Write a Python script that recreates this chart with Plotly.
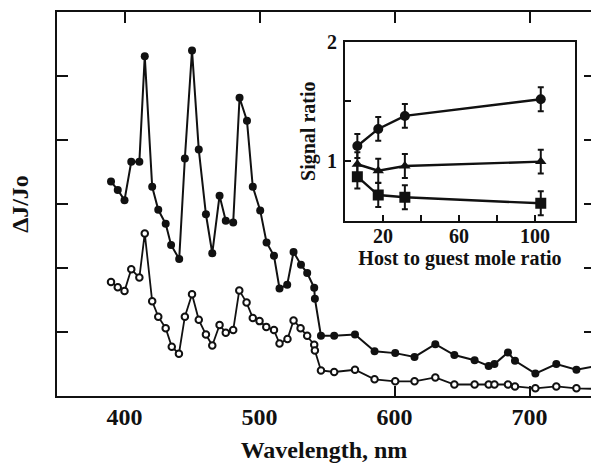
import plotly.graph_objects as go

# Main spectrum data
wl_filled = [390, 395, 400, 405, 411, 415, 420.5, 425, 430.5, 434.5, 440.5, 444.7, 450, 455,
             460.3, 465, 470.4, 475, 480.5, 485.2, 490.7, 495, 500.5, 505.2, 510.7, 514.8,
             520.5, 525.2, 530.7, 535.3, 540.5, 541, 545.5, 555.3, 570.7, 585.2, 600.5, 614.8,
             630.2, 644.3, 659.3, 669.7, 674, 684, 689.2, 704.3, 719.8, 734.7, 750]
dj_filled = [3.35, 3.22, 3.06, 3.66, 3.66, 5.31, 3.27, 2.91, 2.69, 2.36, 2.14, 3.71, 5.40, 3.85,
             2.84, 2.23, 3.13, 2.74, 2.71, 4.66, 4.30, 3.27, 2.90, 2.40, 2.19, 1.68,
             1.74, 2.25, 2.05, 1.92, 1.69, 1.52, 0.94, 0.94, 0.96, 0.70, 0.67, 0.61,
             0.81, 0.64, 0.56, 0.47, 0.50, 0.68, 0.55, 0.35, 0.50, 0.41, 0.47]

wl_open = [390, 395, 400, 405, 411, 415, 420.5, 425, 430.5, 435, 440.3, 444.7, 450, 455,
           460.3, 465, 470.4, 475, 480.5, 485, 490.4, 495, 500, 505, 510.7, 514.8,
           520.7, 525.2, 530.4, 535.3, 540.5, 541, 545.5, 555.3, 570.7, 585.2, 600.5, 614.8,
           630.2, 644.3, 659.3, 669.7, 674, 684, 689.2, 704.3, 719.8, 734.7, 750]
dj_open = [1.78, 1.70, 1.64, 1.98, 1.85, 2.54, 1.48, 1.24, 1.06, 0.77, 0.66, 1.24, 1.59, 1.19,
           0.96, 0.79, 1.11, 0.99, 1.03, 1.65, 1.46, 1.22, 1.17, 1.08, 1.03, 0.82,
           0.89, 1.18, 1.06, 0.94, 0.80, 0.71, 0.40, 0.375, 0.41, 0.26, 0.23, 0.23,
           0.29, 0.18, 0.18, 0.18, 0.18, 0.18, 0.15, 0.12, 0.15, 0.12, 0.11]

wl_ticks = [400, 500, 600, 700]
dj_ticks = [1, 2, 3, 4, 5]

# Inset data
ratio = [6.5, 17.5, 31.5, 103]
sig_circle = [1.126, 1.269, 1.378, 1.518]
sig_triangle = [0.973, 0.919, 0.958, 0.995]
sig_square = [0.869, 0.715, 0.696, 0.646]
err_circle = [0.1, 0.1, 0.1, 0.1]
err_triangle = [0.1, 0.1, 0.1, 0.1]
err_square = [0.1, 0.1, 0.1, 0.1]
inset_xticks = [20, 40, 60, 80, 100]
inset_xlabels = ["20", "", "60", "", "100"]
inset_yticks = [1, 1.5, 2]
inset_ylabels = ["1", "", "2"]

INK = "#111111"
FONT = "Liberation Serif, Times New Roman, serif"

fig = go.Figure()

fig.add_trace(go.Scatter(x=wl_filled, y=dj_filled, mode="lines+markers",
                         line=dict(color=INK, width=2),
                         marker=dict(symbol="circle", size=8, color=INK),
                         showlegend=False, cliponaxis=True))
fig.add_trace(go.Scatter(x=wl_open, y=dj_open, mode="lines+markers",
                         line=dict(color=INK, width=1.8),
                         marker=dict(symbol="circle", size=6.5, color="white",
                                     line=dict(color=INK, width=2)),
                         showlegend=False, cliponaxis=True))

# empty traces for the overlay tick axes
fig.add_trace(go.Scatter(x=[], y=[], xaxis="x3", yaxis="y", showlegend=False))
fig.add_trace(go.Scatter(x=[], y=[], xaxis="x4", yaxis="y", showlegend=False))
fig.add_trace(go.Scatter(x=[], y=[], xaxis="x", yaxis="y3", showlegend=False))

err = lambda a: dict(type="data", array=a, visible=True, color=INK, thickness=2, width=3)
fig.add_trace(go.Scatter(x=ratio, y=sig_circle, error_y=err(err_circle), mode="lines+markers",
                         xaxis="x2", yaxis="y2", line=dict(color=INK, width=2.4),
                         marker=dict(symbol="circle", size=10, color=INK), showlegend=False))
fig.add_trace(go.Scatter(x=ratio, y=sig_triangle, error_y=err(err_triangle), mode="lines+markers",
                         xaxis="x2", yaxis="y2", line=dict(color=INK, width=2.4),
                         marker=dict(symbol="triangle-up", size=10, color=INK), showlegend=False))
fig.add_trace(go.Scatter(x=ratio, y=sig_square, error_y=err(err_square), mode="lines+markers",
                         xaxis="x2", yaxis="y2", line=dict(color=INK, width=2.4),
                         marker=dict(symbol="square", size=11, color=INK), showlegend=False))

xr = [350, 745.5]
main_font = dict(family=FONT, size=24, color=INK, weight="bold")
inset_font = dict(family=FONT, size=20, color=INK, weight="bold")

fig.update_layout(
    width=591, height=464,
    margin=dict(l=57, r=0, t=12, b=68),
    paper_bgcolor="white", plot_bgcolor="white",
    font=dict(family=FONT, color=INK),
    xaxis=dict(range=xr, domain=[0, 1], tickvals=wl_ticks, ticks="", showgrid=False,
               zeroline=False, showline=True, linecolor=INK, linewidth=2, mirror=True,
               tickfont=main_font, ticklabelstandoff=-2,
               title=dict(text="Wavelength, nm", font=main_font, standoff=12)),
    yaxis=dict(range=[0, 6], domain=[0, 1], tickvals=dj_ticks, ticks="inside", ticklen=11,
               tickwidth=1.6, tickcolor=INK, showticklabels=False, showgrid=False,
               zeroline=False, showline=True, linecolor=INK, linewidth=2,
               title=dict(text="ΔJ/Jo", font=main_font, standoff=20)),
    xaxis3=dict(range=xr, overlaying="x", side="top", anchor="y", tickvals=wl_ticks,
                ticks="inside", ticklen=11, tickwidth=1.6, tickcolor=INK,
                showticklabels=False, showgrid=False, zeroline=False, showline=False),
    xaxis4=dict(range=xr, overlaying="x", side="bottom", anchor="y", tickvals=[600, 700],
                ticks="inside", ticklen=10, tickwidth=1.6, tickcolor=INK,
                showticklabels=False, showgrid=False, zeroline=False, showline=False),
    yaxis3=dict(range=[0, 6], overlaying="y", side="right", anchor="x", tickvals=dj_ticks,
                ticks="inside", ticklen=7, tickwidth=1.6, tickcolor=INK,
                showticklabels=False, showgrid=False, zeroline=False, showline=False),
    xaxis2=dict(range=[0, 121], domain=[0.5393, 0.9700], anchor="y2",
                tickvals=inset_xticks, ticktext=inset_xlabels, ticks="inside", ticklen=6,
                tickwidth=1.5, tickcolor=INK, showgrid=False, zeroline=False,
                showline=True, linecolor=INK, linewidth=2, mirror=True,
                tickfont=inset_font, ticklabelstandoff=-4,
                title=dict(text="Host to guest mole ratio", font=inset_font, standoff=0)),
    yaxis2=dict(range=[0.5, 2], domain=[0.4565, 0.9227], anchor="x2",
                tickvals=inset_yticks, ticktext=inset_ylabels, ticks="inside", ticklen=6,
                tickwidth=1.5, tickcolor=INK, showgrid=False, zeroline=False,
                showline=True, linecolor=INK, linewidth=2, mirror=True,
                tickfont=inset_font, ticklabelstandoff=2,
                title=dict(text="Signal ratio", font=inset_font, standoff=6)),
)

fig.write_html("out.html")
